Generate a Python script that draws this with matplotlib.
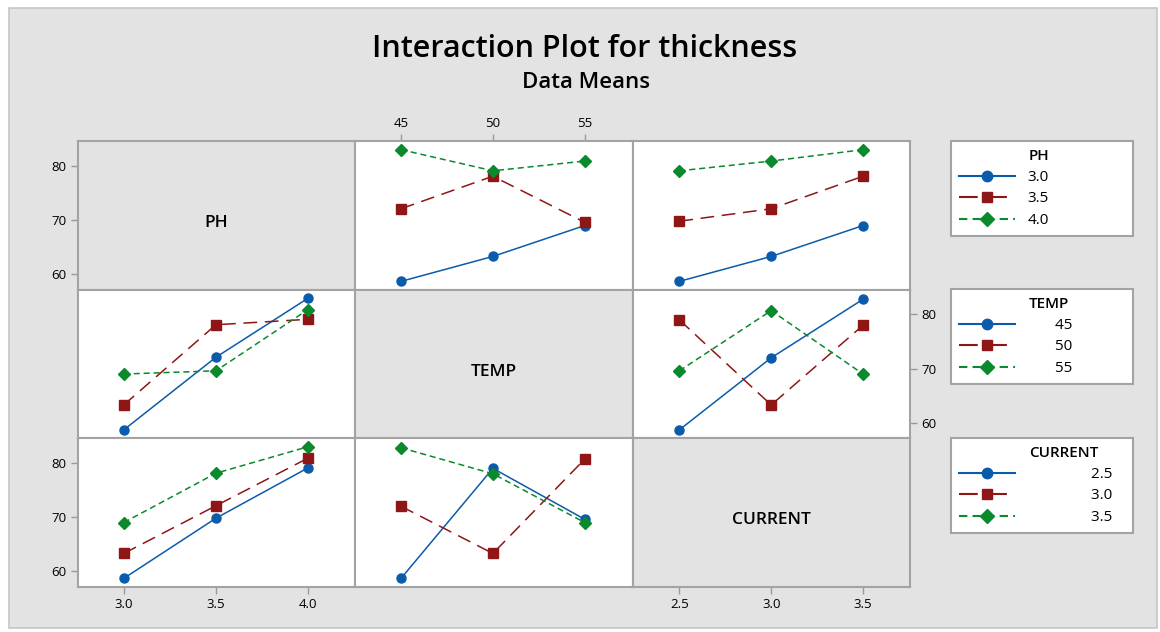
import matplotlib.pyplot as plt
from matplotlib.lines import Line2D
from matplotlib.patches import Rectangle

plt.rcParams['font.family'] = ['Open Sans', 'DejaVu Sans']

factors = ['PH', 'TEMP', 'CURRENT']
ph_levels = [3.0, 3.5, 4.0]
temp_levels = [45, 50, 55]
current_levels = [2.5, 3.0, 3.5]
ph_labels = ['3.0', '3.5', '4.0']
temp_labels = ['45', '50', '55']
current_labels = ['2.5', '3.0', '3.5']
y_ticks = [60, 70, 80]

# rows = level of first factor, columns = level of second factor
ph_by_temp = [[58.7, 63.3, 69.0],
              [72.1, 78.1, 69.6],
              [83.0, 79.1, 80.9]]
ph_by_current = [[58.7, 63.3, 69.0],
                 [69.8, 72.1, 78.1],
                 [79.1, 80.9, 83.0]]
temp_by_current = [[58.7, 72.0, 82.8],
                   [79.0, 63.3, 78.0],
                   [69.6, 80.7, 69.0]]

levels = [ph_levels, temp_levels, current_levels]
tick_labels = [ph_labels, temp_labels, current_labels]
xlims = [(2.75, 4.255), (42.5, 57.6), (2.245, 3.755)]
ylim = (57.2, 84.6)


def transpose(m):
    return [list(r) for r in zip(*m)]


# means[i][j][a][b]: trace factor i at level a, x factor j at level b
means = {(0, 1): ph_by_temp, (0, 2): ph_by_current, (1, 2): temp_by_current,
         (1, 0): transpose(ph_by_temp), (2, 0): transpose(ph_by_current),
         (2, 1): transpose(temp_by_current)}

colors = ['#0b5bab', '#8e1616', '#0a8a2c']
markers = ['o', 's', 'D']
msizes = [6.5, 6.5, 6]
styles = ['-', (0, (9, 5)), (0, (4, 2.5))]

bg = '#e3e3e3'
edge = '#a3a3a3'
W, H = 1160, 632
fig = plt.figure(figsize=(W / 100, H / 100), dpi=100, facecolor='white')
fig.add_artist(Rectangle((9 / W, 1 - 628 / H), 1148 / W, 620 / H, transform=fig.transFigure,
                         facecolor=bg, edgecolor='#c6c6c6', lw=1.2, zorder=-5))

fig.text(585 / W, 1 - 49 / H, 'Interaction Plot for thickness', ha='center', va='center',
         fontsize=22, weight='semibold')
fig.text(586 / W, 1 - 83 / H, 'Data Means', ha='center', va='center',
         fontsize=16, weight='semibold')

left, top = 77.7, 141
cw, rh = 277.4, 148.5
for i in range(3):
    for j in range(3):
        ax = fig.add_axes([(left + j * cw) / W, 1 - (top + (i + 1) * rh) / H, cw / W, rh / H])
        ax.set_xlim(xlims[j])
        ax.set_ylim(ylim)
        ax.set_xticks(levels[j])
        ax.set_xticklabels(tick_labels[j])
        ax.set_yticks(y_ticks)
        ax.set_yticklabels([str(v) for v in y_ticks])
        for s in ax.spines.values():
            s.set_color(edge)
            s.set_linewidth(1.5)
        ax.tick_params(length=5, width=1, color='#9a9a9a', labelsize=9.5, pad=3,
                       left=False, labelleft=False, bottom=False, labelbottom=False)
        if i == j:
            ax.set_facecolor(bg)
            ax.text(0.5, 0.5 - 8 / rh, factors[i], transform=ax.transAxes, ha='center',
                    va='center', fontsize=12.5, weight='semibold')
        else:
            ax.set_facecolor('white')
            data = means[(i, j)]
            for a in range(3):
                ax.plot(levels[j], data[a], color=colors[a], marker=markers[a],
                        ms=msizes[a], ls=styles[a], lw=1.1)
        if j == 0 and i in (0, 2):
            ax.tick_params(left=True, labelleft=True)
        if i == 1 and j == 2:
            ax.tick_params(right=True, labelright=True)
        if i == 2 and j in (0, 2):
            ax.tick_params(bottom=True, labelbottom=True)
        if i == 0 and j == 1:
            ax.tick_params(top=True, labeltop=True)

# legends, one per factor; titles drawn separately so they can sit left-aligned
leg_tops = [141, 289, 438]
pads = [0, 7, 16]
for i in range(3):
    handles = [Line2D([], [], color=colors[a], marker=markers[a], ms=msizes[a] + 1,
                      ls=styles[a], lw=1.5) for a in range(3)]
    labels = [' ' * pads[i] + t for t in tick_labels[i]]
    leg = fig.legend(handles, labels, title=' ', loc='upper left',
                     bbox_to_anchor=(951 / W, 1 - (leg_tops[i] + 97) / H, 182 / W, 97 / H),
                     mode='expand', borderaxespad=0, fancybox=False, framealpha=1,
                     edgecolor=edge, fontsize=11, title_fontsize=11,
                     handlelength=3.7, handletextpad=0.8, labelspacing=0.42,
                     borderpad=0.5, numpoints=1)
    leg.get_frame().set_linewidth(1.5)
    fig.text(1029 / W, 1 - (leg_tops[i] + 15) / H, factors[i], ha='left', va='center',
             fontsize=11, weight='semibold', zorder=10)

fig.savefig('out.png', dpi=100)
